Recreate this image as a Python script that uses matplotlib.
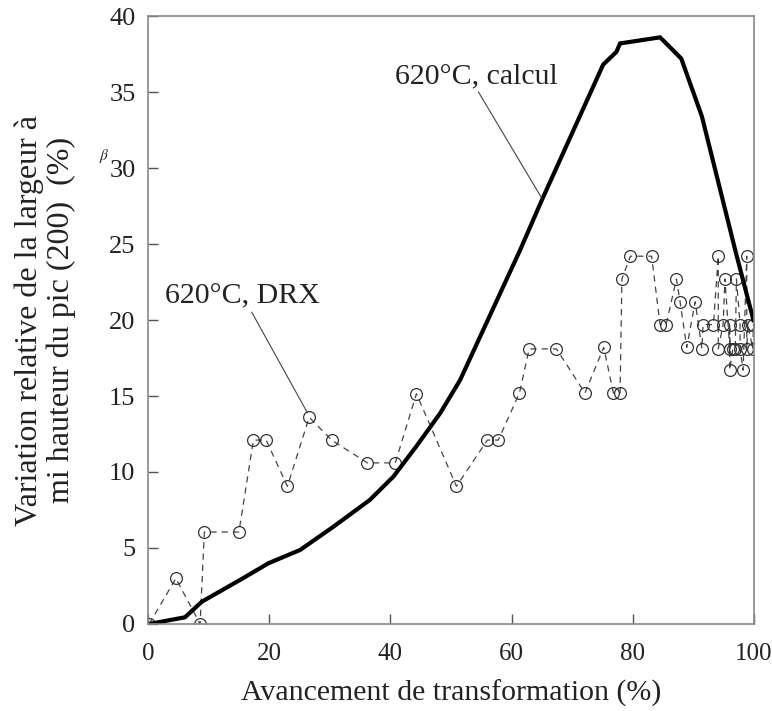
import numpy as np
import matplotlib
matplotlib.use('Agg')
import matplotlib.pyplot as plt

plt.rcParams['font.family'] = ['Liberation Serif', 'DejaVu Serif']
plt.rcParams['mathtext.fontset'] = 'stix'

# courbe calculee 620C
calc_x = [0.2, 6.1, 8.9, 15.2, 19.9, 25.1, 30.6, 36.6, 40.5, 44.3, 48.2, 51.5,
          61.4, 65.0, 75.1, 77.3, 77.9, 84.5, 88.0, 91.4, 96.9, 99.9]
calc_y = [0.0, 0.44, 1.47, 2.9, 4.0, 4.87, 6.4, 8.16, 9.7, 11.7, 13.86, 16.05,
          24.6, 27.9, 36.8, 37.65, 38.2, 38.6, 37.2, 33.4, 24.6, 20.0]

# mesures DRX 620C
drx_x = [0.2, 4.6, 8.6, 9.3, 15.0, 17.4, 19.5, 23.0, 26.6, 30.3, 36.2, 40.8,
         44.3, 50.9, 56.0, 57.8, 61.3, 62.9, 67.4, 72.1, 75.2, 76.8, 77.9,
         78.2, 79.6, 83.1, 84.5, 85.5, 87.2, 87.8, 88.9, 90.3, 91.4, 91.6,
         93.3, 94.1, 94.1, 94.9, 95.2, 96.0, 96.0, 96.0, 96.5, 96.9, 97.1,
         97.7, 97.7, 98.2, 98.8, 98.8, 99.0, 99.8, 99.9]
drx_y = [0.0, 3.0, 0.0, 6.05, 6.05, 12.1, 12.1, 9.06, 13.6, 12.1, 10.6, 10.6,
         15.15, 9.06, 12.1, 12.1, 15.2, 18.1, 18.1, 15.2, 18.2, 15.2, 15.2,
         22.7, 24.2, 24.2, 19.7, 19.7, 22.7, 21.2, 18.2, 21.2, 18.1, 19.7,
         19.7, 24.2, 18.1, 19.7, 22.7, 18.1, 19.7, 16.7, 18.1, 18.1, 22.7,
         19.7, 18.1, 16.7, 24.2, 18.1, 19.7, 18.1, 19.7]

fig = plt.figure(figsize=(7.72, 7.11), dpi=100)
ax = fig.add_axes([0.1917, 0.1224, 0.785, 0.855])

ax.plot(drx_x, drx_y, color='#444444', lw=0.9, ls=(0, (5, 4)),
        marker='o', ms=8.5, mfc='none', mec='#333333', mew=0.9)
ax.plot(calc_x, calc_y, color='black', lw=3.0, solid_joinstyle='miter')

ax.set_xlim(0, 100)
ax.set_ylim(0, 40)
ax.set_xticks(np.arange(0, 101, 20))
ax.set_yticks(np.arange(0, 41, 5))
ax.tick_params(direction='in', length=7, width=1, colors='#555555',
               labelcolor='#222222', labelsize=18)
ax.tick_params(axis='x', pad=14)
ax.tick_params(axis='y', pad=9, labelsize=19)
for s in ax.spines.values():
    s.set_color('#888888')
    s.set_linewidth(1.2)

ax.set_xlabel('Avancement de transformation (%)', fontsize=21.5, labelpad=10, color='#222222')
ax.set_ylabel('Variation relative de la largeur à\nmi hauteur du pic (200)  (%)',
              fontsize=23, labelpad=24, color='#222222', linespacing=1.1)
fig.text(0.128, 0.775, r'$\beta$', fontsize=11, color='#222222')

# etiquettes
ax.annotate('620°C, calcul', xy=(65.0, 28.0), xytext=(40.8, 35.6),
            fontsize=21.5, color='#222222', ha='left', va='baseline',
            arrowprops=dict(arrowstyle='-', color='#444444', lw=0.8,
                            shrinkA=0, shrinkB=0, relpos=(0.5, 0)))
ax.annotate('620°C, DRX', xy=(26.3, 13.9), xytext=(2.8, 21.1),
            fontsize=21.5, color='#222222', ha='left', va='baseline',
            arrowprops=dict(arrowstyle='-', color='#444444', lw=0.8,
                            shrinkA=0, shrinkB=0, relpos=(0.55, 0)))

fig.savefig('out.png', dpi=100)
